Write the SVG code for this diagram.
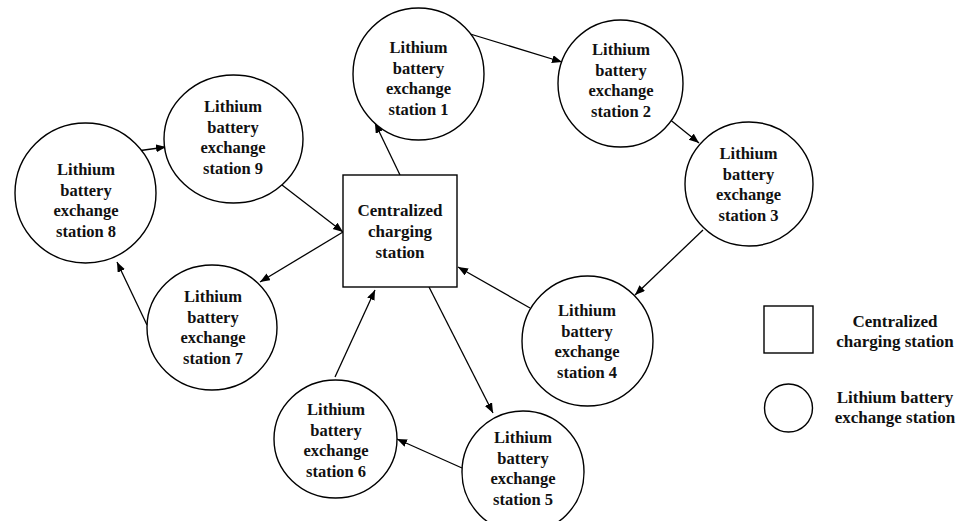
<svg xmlns="http://www.w3.org/2000/svg" width="965" height="521" viewBox="0 0 965 521">
<style>
.n{fill:#fff;stroke:#000;stroke-width:1.4}
.t{font-family:"Liberation Serif","Times New Roman",serif;font-weight:bold;font-size:16.5px;text-anchor:middle;fill:#111}
.b{font-size:17px}
.c line{stroke:#000;stroke-width:1.3;marker-end:url(#ah)}
</style>
<defs>
<marker id="ah" markerUnits="userSpaceOnUse" markerWidth="11" markerHeight="9" refX="10" refY="4" orient="auto">
<path d="M0,0 L10,4 L0,8 Z" fill="#000"/>
</marker>
</defs>
<rect width="965" height="521" fill="#fff"/>
<g class="c" id="connectors">
<line x1="400" y1="175" x2="375" y2="123"/>
<line x1="467" y1="33" x2="562" y2="62"/>
<line x1="668" y1="118" x2="699" y2="143"/>
<line x1="703" y1="230" x2="635" y2="295"/>
<line x1="530" y1="308" x2="458" y2="267"/>
<line x1="429" y1="287" x2="493" y2="413"/>
<line x1="462" y1="468" x2="397" y2="439"/>
<line x1="335" y1="377" x2="375" y2="290"/>
<line x1="147" y1="325" x2="117" y2="262"/>
<line x1="137" y1="151" x2="166" y2="147"/>
<line x1="282" y1="185" x2="343" y2="232"/>
<line x1="343" y1="232" x2="260" y2="282"/>
</g>
<g id="central">
<rect class="n" x="343" y="175" width="114" height="112"/>
<text class="t b" x="400" y="216">Centralized<tspan x="400" dy="21">charging</tspan><tspan x="400" dy="21">station</tspan></text>
</g>
<g id="s1">
<ellipse class="n" cx="418.5" cy="74" rx="65.5" ry="66"/>
<text class="t" x="418.5" y="53">Lithium<tspan x="418.5" dy="20.5">battery</tspan><tspan x="418.5" dy="20.5">exchange</tspan><tspan x="418.5" dy="20.5">station 1</tspan></text>
</g>
<g id="s2">
<ellipse class="n" cx="620.5" cy="83.5" rx="62.5" ry="63.5"/>
<text class="t" x="621" y="55">Lithium<tspan x="621" dy="20.5">battery</tspan><tspan x="621" dy="20.5">exchange</tspan><tspan x="621" dy="20.5">station 2</tspan></text>
</g>
<g id="s3">
<ellipse class="n" cx="749" cy="184" rx="64" ry="62"/>
<text class="t" x="748.5" y="159">Lithium<tspan x="748.5" dy="20.5">battery</tspan><tspan x="748.5" dy="20.5">exchange</tspan><tspan x="748.5" dy="20.5">station 3</tspan></text>
</g>
<g id="s4">
<ellipse class="n" cx="587.5" cy="341" rx="65.5" ry="65"/>
<text class="t" x="587" y="316">Lithium<tspan x="587" dy="20.5">battery</tspan><tspan x="587" dy="20.5">exchange</tspan><tspan x="587" dy="20.5">station 4</tspan></text>
</g>
<g id="s5">
<ellipse class="n" cx="523" cy="472" rx="61" ry="61"/>
<text class="t" x="523" y="443">Lithium<tspan x="523" dy="20.5">battery</tspan><tspan x="523" dy="20.5">exchange</tspan><tspan x="523" dy="20.5">station 5</tspan></text>
</g>
<g id="s6">
<ellipse class="n" cx="335.5" cy="439" rx="61.5" ry="59"/>
<text class="t" x="336" y="415">Lithium<tspan x="336" dy="20.5">battery</tspan><tspan x="336" dy="20.5">exchange</tspan><tspan x="336" dy="20.5">station 6</tspan></text>
</g>
<g id="s7">
<ellipse class="n" cx="212" cy="327.5" rx="65" ry="62.5"/>
<text class="t" x="213" y="302">Lithium<tspan x="213" dy="20.5">battery</tspan><tspan x="213" dy="20.5">exchange</tspan><tspan x="213" dy="20.5">station 7</tspan></text>
</g>
<g id="s8">
<ellipse class="n" cx="85.5" cy="193" rx="70.5" ry="70"/>
<text class="t" x="86" y="175">Lithium<tspan x="86" dy="20.5">battery</tspan><tspan x="86" dy="20.5">exchange</tspan><tspan x="86" dy="20.5">station 8</tspan></text>
</g>
<g id="s9">
<ellipse class="n" cx="233.5" cy="139" rx="69.5" ry="64"/>
<text class="t" x="233" y="112">Lithium<tspan x="233" dy="20.5">battery</tspan><tspan x="233" dy="20.5">exchange</tspan><tspan x="233" dy="20.5">station 9</tspan></text>
</g>
<g id="legend">
<rect class="n" x="764" y="306" width="49" height="47"/>
<text class="t b" x="895" y="327">Centralized<tspan x="895" dy="20">charging station</tspan></text>
<circle class="n" cx="788.5" cy="408" r="24"/>
<text class="t b" x="895" y="403">Lithium battery<tspan x="895" dy="20">exchange station</tspan></text>
</g>
</svg>
